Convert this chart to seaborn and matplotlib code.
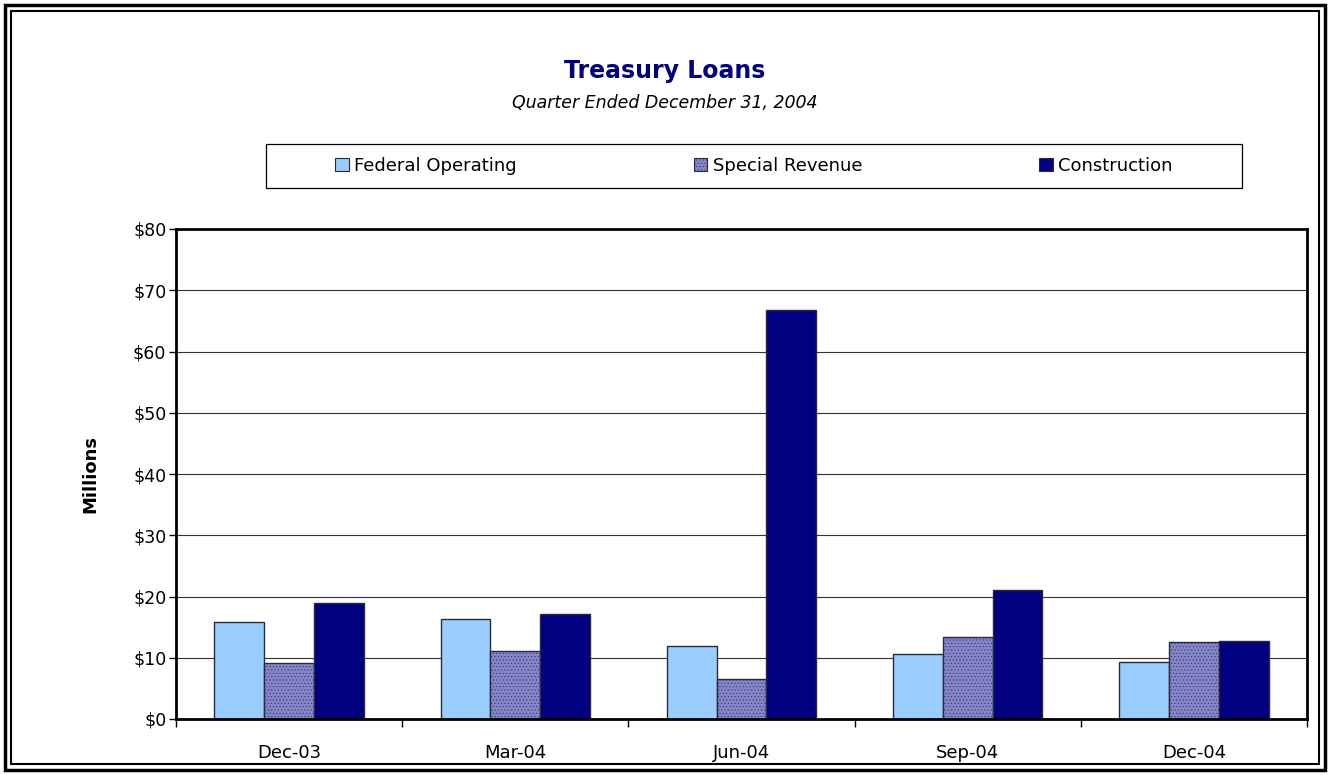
import pandas as pd
import matplotlib.pyplot as plt
import seaborn as sns
import numpy as np
from matplotlib.patches import Rectangle, Patch

sns.set_style('white')
plt.rcParams['font.family'] = ['DejaVu Sans']
plt.rcParams['text.color'] = 'black'
plt.rcParams['axes.labelcolor'] = 'black'
plt.rcParams['xtick.color'] = 'black'
plt.rcParams['ytick.color'] = 'black'
plt.rcParams['hatch.color'] = '#6c6cbc'
plt.rcParams['hatch.linewidth'] = 0.3

# data (millions of dollars)
quarters = ['Dec-03', 'Mar-04', 'Jun-04', 'Sep-04', 'Dec-04']
federal_operating = [15.9, 16.3, 11.9, 10.6, 9.3]
special_revenue = [9.1, 11.1, 6.5, 13.4, 12.6]
construction = [19.0, 17.1, 66.8, 21.1, 12.7]
series_names = ['Federal Operating', 'Special Revenue', 'Construction']
colors = ['#99ccff', '#8484cc', '#000080']

df = pd.DataFrame({
    'quarter': quarters * 3,
    'fund': [series_names[0]] * 5 + [series_names[1]] * 5 + [series_names[2]] * 5,
    'value': federal_operating + special_revenue + construction,
})

W, H = 1330, 775
fig = plt.figure(figsize=(13.3, 7.75), dpi=100)
ax = fig.add_axes([176 / W, 1 - 719 / H, (1307 - 176) / W, (719 - 229) / H])

sns.barplot(data=df, x='quarter', y='value', hue='fund', order=quarters,
            hue_order=series_names, palette=colors, width=0.66,
            edgecolor='#2a2a3a', linewidth=1.0, saturation=1, legend=False, ax=ax)

# fine dither on the special revenue bars
for bar in ax.containers[1]:
    bar.set_hatch('.....')

ax.set_ylim(0, 80)
ax.set_xlim(-0.5, 4.5)
ax.set_yticks(np.arange(0, 81, 10))
ax.set_yticklabels([f'${v}' for v in range(0, 81, 10)], fontsize=12.5)
ax.set_xticks(range(5))
ax.set_xticklabels(quarters, fontsize=13)
ax.tick_params(axis='x', length=0, pad=18)
ax.tick_params(axis='y', length=5, direction='out', left=True, width=1, pad=2)
# tick marks at category boundaries
ax.set_xticks(np.arange(-0.5, 5, 1), minor=True)
ax.tick_params(axis='x', which='minor', length=6, direction='out', bottom=True, width=1)

ax.yaxis.grid(True, color='#333333', linewidth=0.8)
ax.set_axisbelow(True)
for s in ax.spines.values():
    s.set_color('black')
    s.set_linewidth(2)
ax.set_xlabel('')
ax.set_ylabel('Millions', fontsize=13, fontweight='bold', labelpad=24)

fig.text(0.5, 1 - 71 / H, 'Treasury Loans', ha='center', va='center',
         fontsize=17, fontweight='bold', color='#000080')
fig.text(0.5, 1 - 103 / H, 'Quarter Ended December 31, 2004', ha='center', va='center',
         fontsize=12.5, style='italic')

# legend box
fig.patches.append(Rectangle((266 / W, 1 - 188 / H), (1242 - 266) / W, 44 / H, fill=False,
                             edgecolor='black', linewidth=0.9, transform=fig.transFigure))
handles = [Patch(facecolor=c, edgecolor='#2a2a3a', linewidth=0.8) for c in colors]
handles[1].set_hatch('.....')
fig.legend(handles, series_names, loc='center', bbox_to_anchor=(754 / W, 1 - 166 / H),
           ncol=3, fontsize=13, frameon=False, handlelength=0.75, handleheight=0.75,
           handletextpad=0.3, columnspacing=9.8)

# double border around the whole chart
fig.patches.append(Rectangle((5 / W, 5 / H), 1 - 10 / W, 1 - 10 / H, fill=False,
                             edgecolor='black', linewidth=2.5, transform=fig.transFigure))
fig.patches.append(Rectangle((11 / W, 11 / H), 1 - 22 / W, 1 - 22 / H, fill=False,
                             edgecolor='black', linewidth=1.5, transform=fig.transFigure))

fig.savefig('out.png', dpi=100)
